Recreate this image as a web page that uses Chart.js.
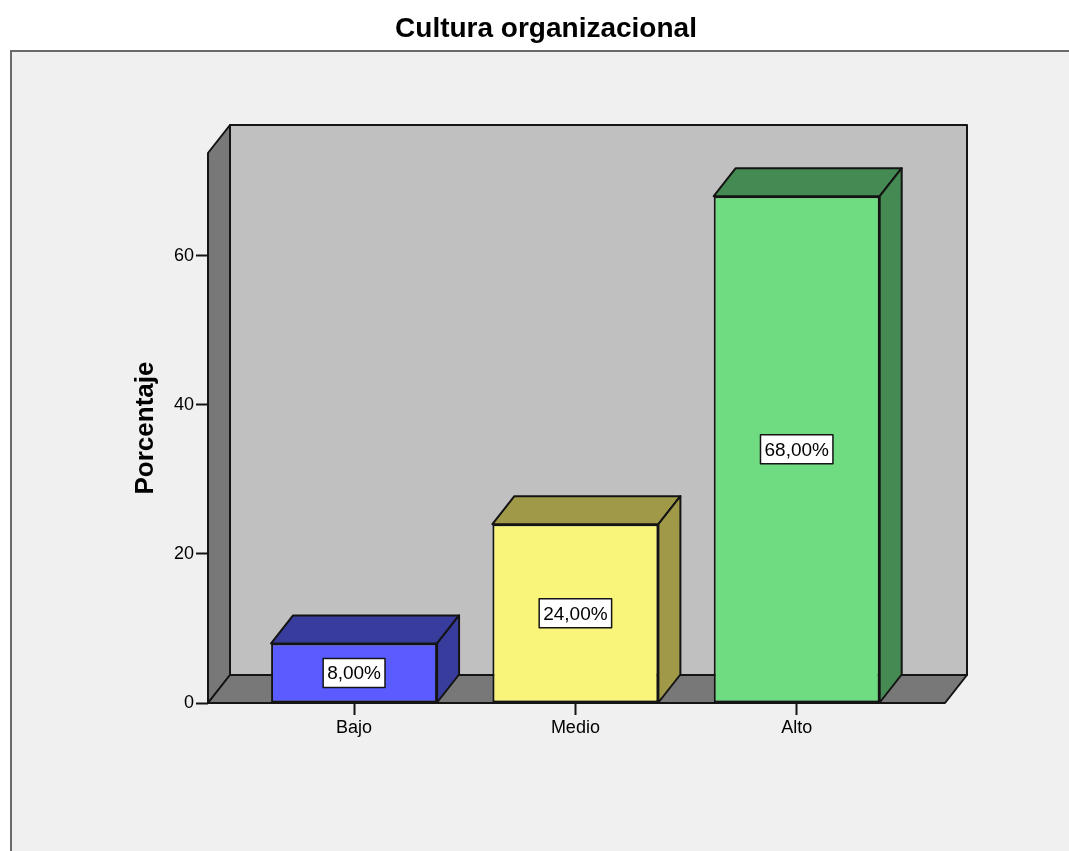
<!DOCTYPE html>
<html>
<head>
<meta charset="utf-8">
<title>Cultura organizacional</title>
<script src="https://cdn.jsdelivr.net/npm/chart.js@4.4.1/dist/chart.umd.min.js"></script>
<style>
  html, body { margin: 0; padding: 0; background: #fff; }
  canvas { display: block; }
</style>
</head>
<body>
<canvas id="chart" width="1069" height="851"></canvas>
<script>
const categories = [`Bajo`, `Medio`, `Alto`];
const percentages = [8, 24, 68];
const frontColors = [`#5a5cff`, `#f9f57a`, `#6fdc82`];
const shadeColors = [`#383c9c`, `#a09a48`, `#458a52`];
const yTicks = [0, 20, 40, 60];

const FONT = `Arial, "Liberation Sans", sans-serif`;
const DEPTH_X = 22;
const DEPTH_Y = -28;

const formatPercent = (v) => v.toFixed(2).replace(`.`, `,`) + `%`;

const polygon = (ctx, pts, fill) => {
  ctx.beginPath();
  ctx.moveTo(pts[0][0], pts[0][1]);
  pts.slice(1).forEach((p) => ctx.lineTo(p[0], p[1]));
  ctx.closePath();
  ctx.fillStyle = fill;
  ctx.fill();
  ctx.stroke();
};

// frame, title and the 3d box behind the bars
const boxPlugin = {
  id: `box3d`,
  beforeDraw(chart) {
    const {ctx, width, height} = chart;
    ctx.save();
    ctx.fillStyle = `#ffffff`;
    ctx.fillRect(0, 0, width, height);
    ctx.fillStyle = `#f0f0f0`;
    ctx.fillRect(10, 51, width, height);
    ctx.strokeStyle = `#6a6a6a`;
    ctx.lineWidth = 2;
    ctx.beginPath();
    ctx.moveTo(11, height);
    ctx.lineTo(11, 51);
    ctx.lineTo(width, 51);
    ctx.stroke();

    ctx.fillStyle = `#000`;
    ctx.font = `bold 28px ${FONT}`;
    ctx.textAlign = `center`;
    ctx.textBaseline = `alphabetic`;
    ctx.fillText(`Cultura organizacional`, 546, 37);
    ctx.restore();
  },
  beforeDatasetsDraw(chart) {
    const {ctx, chartArea: a} = chart;
    const l = a.left, r = a.right, t = a.top, b = a.bottom;
    ctx.save();
    ctx.strokeStyle = `#141414`;
    ctx.lineWidth = 2;
    ctx.lineJoin = `round`;
    // back wall
    polygon(ctx, [[l + DEPTH_X, t + DEPTH_Y], [r + DEPTH_X, t + DEPTH_Y], [r + DEPTH_X, b + DEPTH_Y], [l + DEPTH_X, b + DEPTH_Y]], `#c0c0c0`);
    // left wall
    polygon(ctx, [[l, t], [l + DEPTH_X, t + DEPTH_Y], [l + DEPTH_X, b + DEPTH_Y], [l, b]], `#787878`);
    // floor
    polygon(ctx, [[l, b], [l + DEPTH_X, b + DEPTH_Y], [r + DEPTH_X, b + DEPTH_Y], [r, b]], `#787878`);
    ctx.restore();
  },
  afterDatasetsDraw(chart) {
    const {ctx} = chart;
    const meta = chart.getDatasetMeta(0);
    ctx.save();
    ctx.strokeStyle = `#141414`;
    ctx.lineWidth = 2;
    ctx.lineJoin = `round`;
    meta.data.forEach((bar, i) => {
      const {x, y, base, width} = bar.getProps([`x`, `y`, `base`, `width`], true);
      const x1 = x - width / 2;
      const x2 = x + width / 2;
      // top face
      polygon(ctx, [[x1, y], [x1 + DEPTH_X, y + DEPTH_Y], [x2 + DEPTH_X, y + DEPTH_Y], [x2, y]], shadeColors[i]);
      // side face
      polygon(ctx, [[x2, y], [x2 + DEPTH_X, y + DEPTH_Y], [x2 + DEPTH_X, base + DEPTH_Y], [x2, base]], shadeColors[i]);

      // value label
      const text = formatPercent(percentages[i]);
      ctx.font = `19px ${FONT}`;
      const tw = ctx.measureText(text).width;
      const cy = (y + base) / 2;
      const bw = tw + 8;
      const bh = 29;
      ctx.fillStyle = `#ffffff`;
      ctx.lineWidth = 1.5;
      ctx.fillRect(x - bw / 2, cy - bh / 2, bw, bh);
      ctx.strokeRect(x - bw / 2, cy - bh / 2, bw, bh);
      ctx.fillStyle = `#000`;
      ctx.textAlign = `center`;
      ctx.textBaseline = `middle`;
      ctx.fillText(text, x, cy + 1);
      ctx.lineWidth = 2;
    });
    ctx.restore();
  }
};

const ctx = document.getElementById(`chart`);

new Chart(ctx, {
  type: `bar`,
  data: {
    datasets: [{
      data: categories.map((c, i) => ({x: i, y: percentages[i]})),
      backgroundColor: frontColors,
      borderColor: `#141414`,
      borderWidth: 2,
      borderSkipped: false,
      barPercentage: 0.75,
      categoryPercentage: 1,
    }]
  },
  plugins: [boxPlugin],
  options: {
    responsive: false,
    devicePixelRatio: 1,
    animation: false,
    layout: {
      padding: {left: 0, top: 153, right: 124, bottom: 0},
    },
    scales: {
      x: {
        type: `linear`,
        min: -0.66,
        max: 2.67,
        offset: false,
        afterBuildTicks: (scale) => {
          scale.ticks = categories.map((c, i) => ({value: i}));
        },
        afterFit: (scale) => {
          scale.height = 148;
        },
        border: {display: false},
        grid: {
          offset: false,
          drawOnChartArea: false,
          tickLength: 12,
          tickColor: `#141414`,
          tickWidth: 2,
        },
        ticks: {
          callback: (v) => categories[v],
          color: `#000`,
          font: {family: FONT, size: 18},
          padding: 2,
          maxRotation: 0,
        },
      },
      y: {
        min: 0,
        max: 73.8,
        afterBuildTicks: (scale) => {
          scale.ticks = yTicks.map((v) => ({value: v}));
        },
        afterFit: (scale) => {
          scale.width = 208;
        },
        border: {display: false},
        grid: {
          drawOnChartArea: false,
          tickLength: 12,
          tickColor: `#141414`,
          tickWidth: 2,
        },
        ticks: {
          color: `#000`,
          font: {family: FONT, size: 18},
          padding: 2,
        },
        title: {
          display: true,
          text: `Porcentaje`,
          color: `#000`,
          font: {family: FONT, size: 26, weight: `bold`},
          padding: {top: 130, bottom: 0},
        },
      },
    },
    plugins: {
      legend: {display: false},
      tooltip: {enabled: false},
    },
  },
});
</script>
</body>
</html>
